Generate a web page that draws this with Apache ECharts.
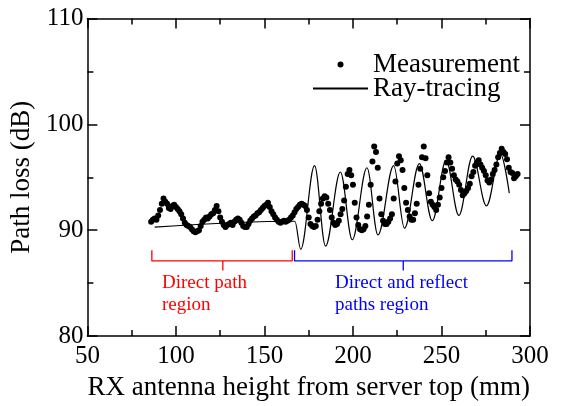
<!DOCTYPE html>
<html>
<head>
<meta charset="utf-8">
<script src="https://cdn.jsdelivr.net/npm/echarts@6/dist/echarts.min.js"></script>
<style>
  html, body { margin: 0; padding: 0; background: #fff; }
  #chart { width: 562px; height: 406px; }
</style>
</head>
<body>
<div id="chart"></div>
<script>
  // measured path loss, one sample per mm of RX height
  const measHeight = [
    86, 87, 88, 89, 90, 91, 92, 93, 94, 95,
    96, 97, 98, 99, 100, 101, 102, 103, 104, 105,
    106, 107, 108, 109, 110, 111, 112, 113, 114, 115,
    116, 117, 118, 119, 120, 121, 122, 123, 124, 125,
    126, 127, 128, 129, 130, 131, 132, 133, 134, 135,
    136, 137, 138, 139, 140, 141, 142, 143, 144, 145,
    146, 147, 148, 149, 150, 151, 152, 153, 154, 155,
    156, 157, 158, 159, 160, 161, 162, 163, 164, 165,
    166, 167, 168, 169, 170, 171, 172, 173, 174, 175,
    176, 177, 178, 179, 180, 181, 182, 183, 184, 185,
    186, 187, 188, 189, 190, 191, 192, 193, 194, 195,
    196, 197, 198, 199, 200, 201, 202, 203, 204, 205,
    206, 207, 208, 209, 210, 211, 212, 213, 214, 215,
    216, 217, 218, 219, 220, 221, 222, 223, 224, 225,
    226, 227, 228, 229, 230, 231, 232, 233, 234, 235,
    236, 237, 238, 239, 240, 241, 242, 243, 244, 245,
    246, 247, 248, 249, 250, 251, 252, 253, 254, 255,
    256, 257, 258, 259, 260, 261, 262, 263, 264, 265,
    266, 267, 268, 269, 270, 271, 272, 273, 274, 275,
    276, 277, 278, 279, 280, 281, 282, 283, 284, 285,
    286, 287, 288, 289, 290, 291, 292, 293
  ];
  const measLoss = [
    90.8, 91.0, 91.1, 91.0, 91.4, 91.9, 92.5, 93.0, 92.7, 92.5,
    92.1, 92.0, 92.3, 92.4, 92.2, 92.0, 91.8, 91.5, 91.1, 90.7,
    90.5, 90.4, 90.3, 90.1, 89.9, 89.8, 89.9, 90.0, 90.4, 90.8,
    91.0, 91.2, 91.1, 91.3, 91.5, 91.6, 91.9, 92.3, 91.8, 91.2,
    90.8, 90.5, 90.3, 90.5, 90.6, 90.7, 90.5, 90.8, 91.0, 91.1,
    91.0, 90.7, 90.4, 90.3, 90.3, 90.6, 90.9, 91.1, 91.3, 91.4,
    91.6, 91.7, 91.9, 92.1, 92.3, 92.4, 92.6, 92.2, 91.8, 91.5,
    91.2, 91.0, 90.8, 90.7, 90.8, 90.9, 90.8, 90.9, 91.0, 91.2,
    91.4, 91.7, 92.0, 92.2, 92.4, 92.5, 92.4, 92.3, 91.9, 91.2,
    90.6, 90.4, 90.3, 90.4, 91.0, 91.8, 92.5, 93.0, 93.2, 93.1,
    92.5, 91.9, 91.2, 90.7, 90.5, 90.6, 90.9, 91.5, 92.0, 92.8,
    94.1, 95.3, 95.7, 95.2, 94.3, 92.6, 91.2, 90.5, 90.1, 90.0,
    90.1, 90.4, 91.3, 92.4, 94.3, 96.5, 97.9, 97.4, 95.9, 93.0,
    91.5, 90.9, 90.6, 90.6, 90.8, 91.1, 91.5, 93.0, 94.6, 96.3,
    97.0, 96.6, 95.7, 94.0, 92.6, 91.9, 91.3, 91.0, 91.0, 91.6,
    92.5, 94.3, 95.8, 96.9, 97.9, 96.8, 95.2, 93.5, 92.7, 92.4,
    92.2, 91.9, 92.4, 93.1, 94.0, 95.0, 95.6, 96.4, 96.9, 96.4,
    95.8, 95.2, 94.8, 94.6, 94.3, 93.8, 93.3, 93.5, 93.7, 94.0,
    94.4, 95.1, 95.5, 96.1, 96.4, 96.6, 96.2, 95.9, 95.6, 95.2,
    94.7, 94.5, 94.8, 95.3, 95.7, 96.2, 96.9, 97.3, 97.7, 97.4,
    97.2, 96.7, 95.9, 95.5, 95.4, 94.9, 95.1, 95.3
  ];

  // ray-tracing curve: end points and turning points
  const rayHeight = [88, 167.2, 170.5, 178.3, 184.5, 192.9, 199.6, 207.9, 214.1, 223.0,
    229.1, 237.5, 244.8, 252.6, 259.8, 267.6, 275.4, 283.3, 288.3];
  const rayLoss = [90.3, 90.85, 88.2, 96.1, 88.5, 95.5, 89.1, 95.9, 89.55, 96.1,
    90.2, 96.3, 90.9, 96.6, 91.4, 97.0, 92.3, 97.2, 93.5];

  // regions marked under the curves
  const regionNames = ['Direct path\nregion', 'Direct and reflect\npaths region'];
  const regionStart = [86.4, 167.0];
  const regionEnd = [165.7, 289.8];
  const regionMid = [126.5, 228.4];

  const xRange = [50, 300];
  const yRange = [80, 110];

  const FONT = '"Liberation Serif", "Times New Roman", serif';
  const BLACK = '#000';
  const regionColors = ['#ff0000', '#0000ff'];
  // brace levels in dB
  const braceLine = 87.1, braceTop = 88.1, braceTip = 86.2;

  const chart = echarts.init(document.getElementById('chart'));

  const axisCommon = {
    type: 'value',
    axisLine: { lineStyle: { color: BLACK, width: 1.5 } },
    axisTick: { inside: true, length: 10, lineStyle: { color: BLACK, width: 1.5 } },
    minorTick: { show: true, splitNumber: 2, length: 6, lineStyle: { color: BLACK, width: 1.5 } },
    splitLine: { show: false },
    minorSplitLine: { show: false }
  };

  const braceSeries = regionNames.map((name, i) => ({
    type: 'line',
    silent: true,
    symbol: 'none',
    lineStyle: { color: regionColors[i], width: 1.3 },
    data: [
      [regionStart[i], braceTop], [regionStart[i], braceLine],
      [regionMid[i], braceLine], [regionMid[i], braceTip], [regionMid[i], braceLine],
      [regionEnd[i], braceLine], [regionEnd[i], braceTop]
    ]
  }));

  const option = {
    animation: false,
    backgroundColor: '#fff',
    textStyle: { fontFamily: FONT },
    grid: { left: 82, right: 32, top: 18.5, bottom: 67 },
    legend: {
      orient: 'vertical',
      left: 312,
      top: 51,
      padding: 0,
      itemWidth: 55,
      itemHeight: 6,
      itemGap: -3,
      selectedMode: false,
      data: [
        { name: 'Measurement' },
        { name: 'Ray-tracing', itemStyle: { color: 'rgba(0,0,0,0)', borderWidth: 0 } }
      ],
      textStyle: { fontFamily: FONT, fontSize: 27, color: BLACK }
    },
    xAxis: [
      Object.assign({}, axisCommon, {
        min: xRange[0], max: xRange[1], interval: 50,
        name: 'RX antenna height from server top (mm)',
        nameLocation: 'middle', nameGap: 33,
        nameTextStyle: { fontFamily: FONT, fontSize: 27, color: BLACK },
        axisLabel: { fontFamily: FONT, fontSize: 25, color: BLACK, margin: 8 }
      }),
      Object.assign({}, axisCommon, {
        position: 'top', min: xRange[0], max: xRange[1], interval: 50,
        axisLabel: { show: false }
      })
    ],
    yAxis: [
      Object.assign({}, axisCommon, {
        min: yRange[0], max: yRange[1], interval: 10,
        name: 'Path loss (dB)',
        nameLocation: 'middle', nameGap: 26,
        nameTextStyle: { fontFamily: FONT, fontSize: 27, color: BLACK },
        axisLabel: { fontFamily: FONT, fontSize: 25, color: BLACK, margin: 4 }
      }),
      Object.assign({}, axisCommon, {
        position: 'right', min: yRange[0], max: yRange[1], interval: 10,
        axisLabel: { show: false }
      })
    ],
    graphic: [
      { type: 'text', left: 162, top: 272,
        style: { text: regionNames[0], fill: regionColors[0], font: '19px ' + FONT, lineHeight: 22 } },
      { type: 'text', left: 335, top: 272,
        style: { text: regionNames[1], fill: regionColors[1], font: '19px ' + FONT, lineHeight: 22 } }
    ],
    series: [
      {
        name: 'Ray-tracing',
        type: 'line',
        symbol: 'none',
        smooth: 0.36,
        smoothMonotone: 'x',
        lineStyle: { color: BLACK, width: 1.2 },
        itemStyle: { color: BLACK },
        data: rayHeight.map((h, i) => [h, rayLoss[i]]),
        z: 3
      },
      {
        name: 'Measurement',
        type: 'scatter',
        symbol: 'circle',
        symbolSize: 6,
        itemStyle: { color: BLACK, opacity: 1 },
        data: measHeight.map((h, i) => [h, measLoss[i]]),
        z: 4
      }
    ].concat(braceSeries)
  };

  chart.setOption(option);
</script>
</body>
</html>
